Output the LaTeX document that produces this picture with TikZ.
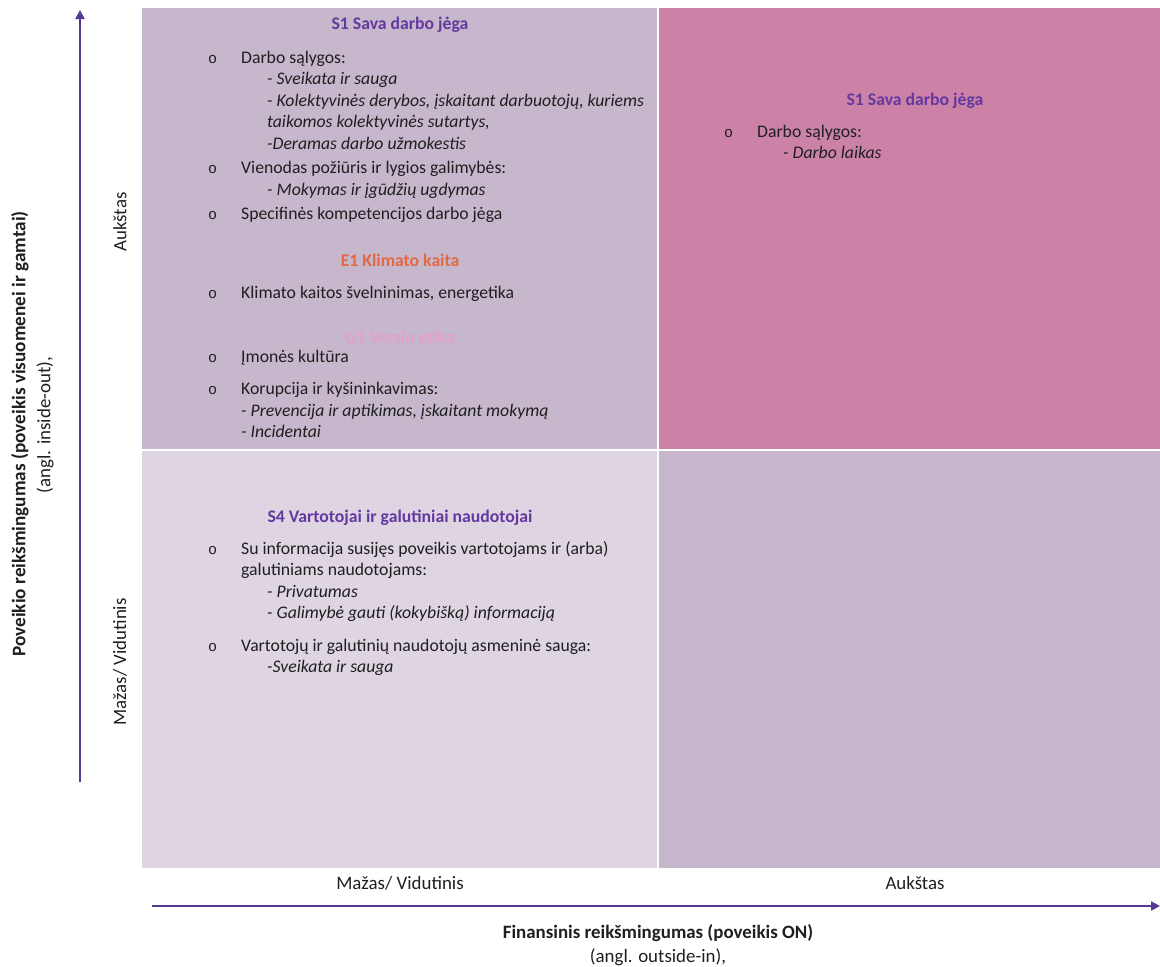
\documentclass[tikz,border=0pt]{standalone}
\usepackage{fontspec}
\setmainfont{Carlito}
\newfontfamily\bulletfont{Liberation Mono}
\usepackage{tikz}
\usetikzlibrary{arrows.meta,positioning}
\definecolor{quadhigh}{RGB}{198,183,204}
\definecolor{quadtop}{RGB}{204,130,167}
\definecolor{quadlow}{RGB}{222,212,226}
\definecolor{socialtxt}{RGB}{99,57,160}
\definecolor{climatetxt}{RGB}{226,104,66}
\definecolor{ethicstxt}{RGB}{228,160,198}
\definecolor{axisline}{RGB}{88,56,150}
\newcommand{\bul}{\strut\makebox[33pt][l]{\bulletfont\fontsize{15}{15}\selectfont o}}
\newcommand{\ind}{\strut\hspace*{59pt}}
\newcommand{\half}{\strut\hspace*{33pt}}

\begin{document}
\begin{tikzpicture}[
  x=1pt, y=-1pt,
  quad/.style={rectangle, fill=#1, anchor=north west, inner sep=0pt},
  title/.style={font=\fontsize{17.7}{20}\selectfont\bfseries, text=#1},
  list/.style={anchor=north west, align=left, inner sep=0pt,
               font=\fontsize{17.7}{21.5}\selectfont, text=black!88},
  ticklbl/.style={font=\fontsize{18.9}{22}\selectfont, text=black!88},
  axis/.style={draw=axisline, line width=2.4pt,
               -{Triangle[length=9pt,width=9pt]}}
]
  \useasboundingbox (0,0) rectangle (1160,967);

  % Quadrants
  \node[quad=quadhigh, minimum width=515pt, minimum height=441pt] (topleft) at (142,8) {};
  \node[quad=quadtop, minimum width=501pt, minimum height=441pt] (topright) at (659,8) {};
  \node[quad=quadlow, minimum width=515pt, minimum height=417pt] (botleft) at (142,451) {};
  \node[quad=quadhigh, minimum width=501pt, minimum height=417pt] (botright) at (659,451) {};

  % Top left — high impact, low/medium financial
  \node[title=socialtxt] (s1title) at (400,25) {S1 Sava darbo jėga};
  \node[list] (s1list) at (208,48) {
    \bul Darbo sąlygos: \\
    \ind\textit{- Sveikata ir sauga} \\
    \ind\textit{- Kolektyvinės derybos, įskaitant darbuotojų, kuriems} \\
    \ind\textit{taikomos kolektyvinės sutartys,} \\
    \ind\textit{-Deramas darbo užmokestis} \\[3pt]
    \bul Vienodas požiūris ir lygios galimybės: \\
    \ind\textit{- Mokymas ir įgūdžių ugdymas} \\[3pt]
    \bul Specifinės kompetencijos darbo jėga
  };
  \node[title=climatetxt] (e1title) at (400,260) {E1 Klimato kaita};
  \node[list] (e1list) at (208,283) {
    \bul Klimato kaitos švelninimas, energetika
  };
  \node[title=ethicstxt] (g1title) at (400,337) {G1 Verslo etika};
  \node[list] (g1list) at (208,347) {
    \bul Įmonės kultūra \\[11pt]
    \bul Korupcija ir kyšininkavimas: \\
    \half\textit{- Prevencija ir aptikimas, įskaitant mokymą} \\
    \half\textit{- Incidentai}
  };

  % Top right — high on both axes
  \node[title=socialtxt] (s1high) at (915,101) {S1 Sava darbo jėga};
  \node[list] (s1highlist) at (724,122) {
    \bul Darbo sąlygos: \\
    \ind\textit{- Darbo laikas}
  };

  % Bottom left — low/medium on both axes
  \node[title=socialtxt] (s4title) at (400,518) {S4 Vartotojai ir galutiniai naudotojai};
  \node[list] (s4list) at (208,539) {
    \bul Su informacija susijęs poveikis vartotojams ir (arba) \\
    \half galutiniams naudotojams: \\
    \ind\textit{- Privatumas} \\
    \ind\textit{- Galimybė gauti (kokybišką) informaciją} \\[11pt]
    \bul Vartotojų ir galutinių naudotojų asmeninė sauga: \\
    \ind\textit{-Sveikata ir sauga}
  };

  % Vertical axis
  \coordinate (ystart) at (80,782);
  \coordinate (yend) at (80,10);
  \draw[axis] (ystart) -- (yend);
  \node[ticklbl, rotate=90] (yhigh) at (120,222) {Aukštas};
  \node[ticklbl, rotate=90] (ylow) at (120,662) {Mažas/ Vidutinis};
  \node[ticklbl, rotate=90, font=\fontsize{19.2}{22}\selectfont\bfseries] (ytitle) at (20,434)
    {Poveikio reikšmingumas (poveikis visuomenei ir gamtai)};
  \node[ticklbl, rotate=90] (ynote) at (45,425) {(angl. inside-out),};

  % Horizontal axis
  \coordinate (xstart) at (152,906);
  \coordinate (xend) at (1160,906);
  \draw[axis] (xstart) -- (xend);
  \node[ticklbl] (xlow) at (400,883) {Mažas/ Vidutinis};
  \node[ticklbl] (xhigh) at (915,883) {Aukštas};
  \node[ticklbl, font=\fontsize{18.9}{22}\selectfont\bfseries] (xtitle) at (658,933)
    {Finansinis reikšmingumas (poveikis ON)};
  \node[ticklbl, below=0pt of xtitle] (xnote) {(angl. outside-in),};
\end{tikzpicture}
\end{document}
